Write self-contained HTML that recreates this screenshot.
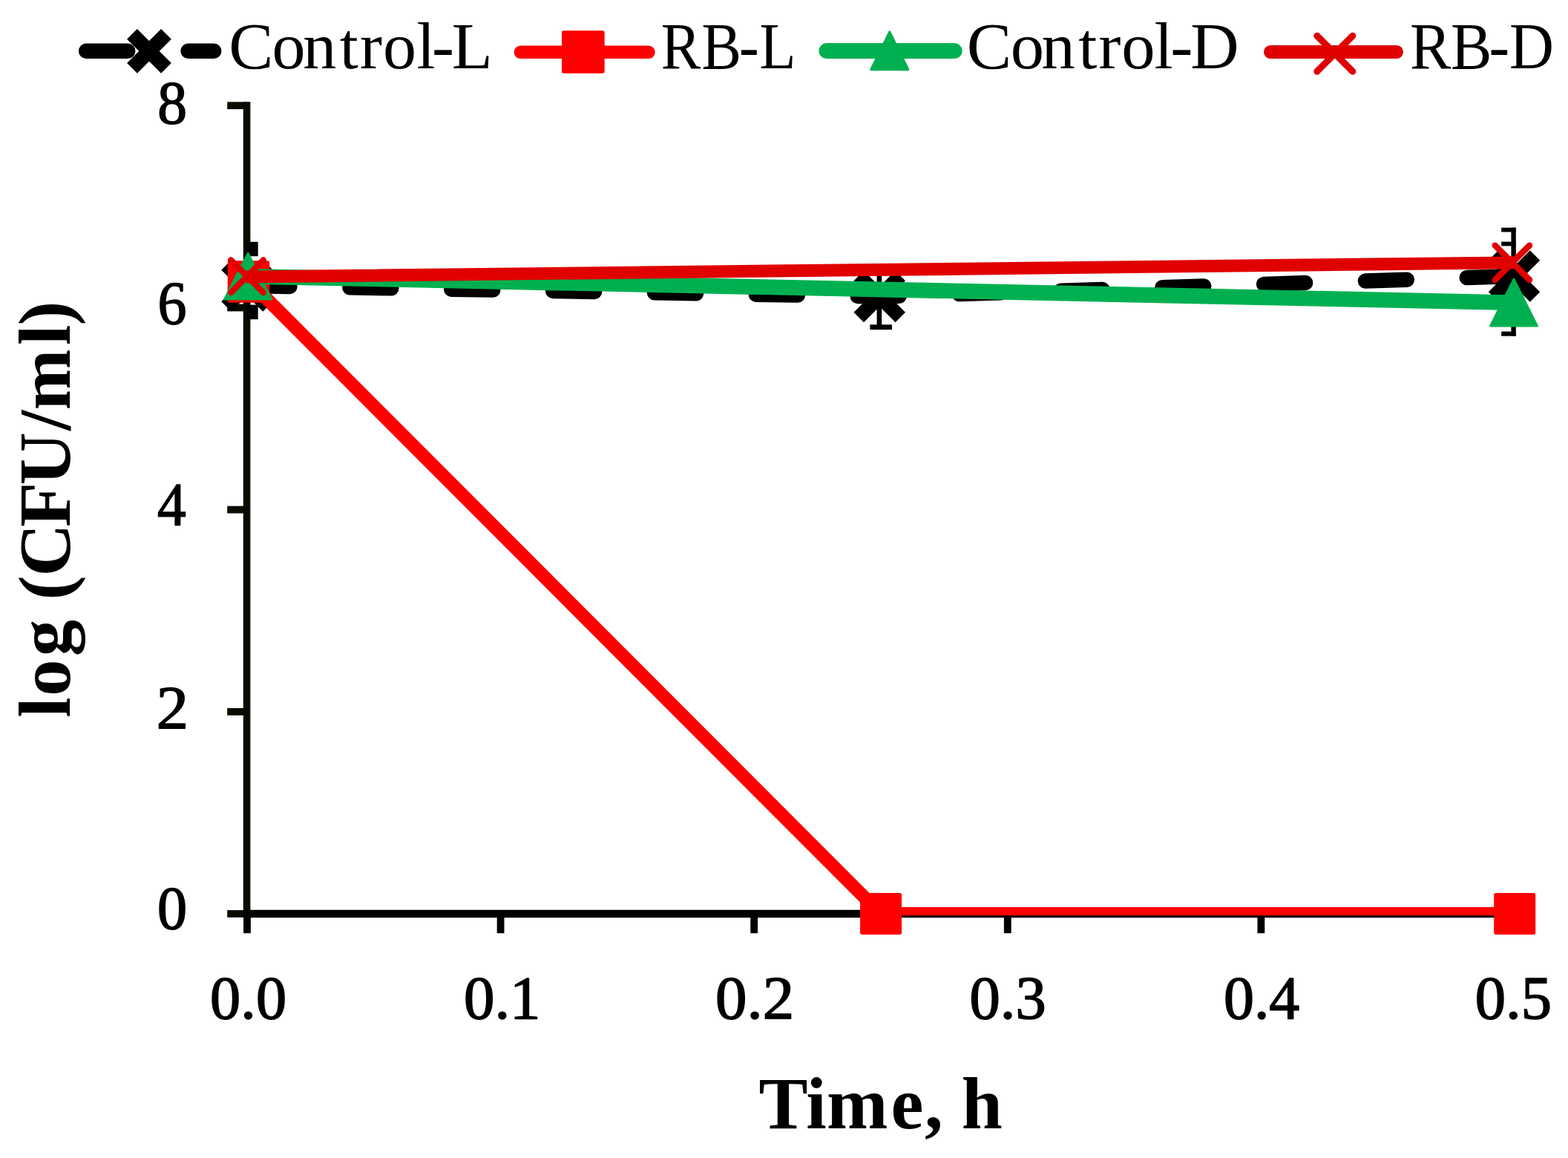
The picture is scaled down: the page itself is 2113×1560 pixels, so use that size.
<!DOCTYPE html>
<html lang="en">
<head>
<meta charset="utf-8">
<title>log (CFU/ml) vs Time, h</title>
<style>
html,body{margin:0;padding:0;background:#ffffff;}
body{width:2113px;height:1560px;overflow:hidden;}
svg{display:block;}
text{font-family:"Liberation Serif",serif;}
</style>
</head>
<body>
<svg width="2113" height="1560" viewBox="0 0 2113 1560" role="img" aria-label="Line chart of log (CFU/ml) versus Time, h">
<rect width="2113" height="1560" fill="#ffffff"/>
<!-- axes -->
<g fill="none" stroke-linecap="butt"><path stroke="#0c0a00" stroke-width="9.6" d="M332.6 137.2V1236.2"/><path stroke="#0c0a00" stroke-width="9.8" d="M306.2 142.20H332.6"/><path stroke="#0c0a00" stroke-width="9.8" d="M306.2 414.50H332.6"/><path stroke="#0c0a00" stroke-width="9.8" d="M306.2 686.60H332.6"/><path stroke="#0c0a00" stroke-width="9.8" d="M306.2 958.80H332.6"/><path stroke="#0c0a00" stroke-width="9.8" d="M306.2 1231.00H332.6"/><path stroke="#000" stroke-width="10.4" d="M327.80 1231.0H2046"/><path stroke="#000" stroke-width="9.8" d="M333.00 1231.0V1257.2"/><path stroke="#000" stroke-width="9.8" d="M674.60 1231.0V1257.2"/><path stroke="#000" stroke-width="9.8" d="M1016.20 1231.0V1257.2"/><path stroke="#000" stroke-width="9.8" d="M1357.80 1231.0V1257.2"/><path stroke="#000" stroke-width="9.8" d="M1699.40 1231.0V1257.2"/><path stroke="#000" stroke-width="9.8" d="M2041.00 1231.0V1257.2"/></g>
<defs><clipPath id="pa"><rect x="332.00" y="137" width="1710.80" height="1096.20"/></clipPath></defs>
<!-- Control-L --><g clip-path="url(#pa)"><polyline points="333.00,385.00 1187.00,399.50 2041.00,372.00" fill="none" stroke="#000000" stroke-width="20.5" stroke-linecap="round" stroke-linejoin="round" stroke-dasharray="56 80.9" stroke-dashoffset="-1.5"/></g><path d="M305.00 357.00L361.00 413.00M305.00 413.00L361.00 357.00" stroke="#000000" stroke-width="19" stroke-linecap="butt" fill="none"/><path d="M1157.30 371.50L1213.30 427.50M1157.30 427.50L1213.30 371.50" stroke="#000000" stroke-width="19" stroke-linecap="butt" fill="none"/><path d="M2012.50 344.00L2068.50 400.00M2012.50 400.00L2068.50 344.00" stroke="#000000" stroke-width="19" stroke-linecap="butt" fill="none"/>
<!-- error bars -->
<g fill="#000"><rect x="333.0" y="325.8" width="14.7" height="19.4"/><rect x="333.0" y="410.6" width="14.7" height="19.6"/><rect x="1181.6" y="358" width="6.6" height="83"/><rect x="1172.4" y="437.3" width="29.6" height="6.8"/><rect x="1172.4" y="355.6" width="29.6" height="6.4"/><rect x="2036.4" y="306.7" width="6.4" height="146"/><rect x="2023.2" y="306.7" width="19.6" height="5.8"/><rect x="2023.2" y="325.6" width="19.6" height="5.8"/><rect x="2023.2" y="446.6" width="19.6" height="6.1"/></g>
<!-- RB-L --><g clip-path="url(#pa)"><polyline points="333.00,376.10 1187.00,1231.00 2041.00,1231.00" fill="none" stroke="#ff0000" stroke-width="17.8" stroke-linecap="round" stroke-linejoin="round"/></g><rect x="306.75" y="351.15" width="56.5" height="56.5" rx="2.5" fill="#ff0000"/><rect x="1159.10" y="1202.90" width="56" height="56" rx="2.5" fill="#ff0000"/><rect x="2013.20" y="1202.90" width="56" height="56" rx="2.5" fill="#ff0000"/>
<!-- Control-D --><g clip-path="url(#pa)"><polyline points="333.00,372.30 2041.00,407.70" fill="none" stroke="#00b050" stroke-width="20.8" stroke-linecap="round" stroke-linejoin="round"/></g><path d="M334.20 341.40L365.70 402.90L302.70 402.90Z" fill="#00b050" stroke="#00b050" stroke-width="3" stroke-linejoin="round"/><path d="M2040.00 376.10L2071.40 439.10L2008.60 439.10Z" fill="#00b050" stroke="#00b050" stroke-width="3" stroke-linejoin="round"/>
<!-- RB-D --><g clip-path="url(#pa)"><polyline points="333.00,373.00 2041.00,353.80" fill="none" stroke="#e00000" stroke-width="16.9" stroke-linecap="round" stroke-linejoin="round"/></g><path d="M311.20 350.40L354.80 394.00M311.20 394.00L354.80 350.40" stroke="#e00000" stroke-width="8.2" stroke-linecap="round" fill="none"/><path d="M2014.70 330.60L2061.10 377.00M2014.70 377.00L2061.10 330.60" stroke="#e00000" stroke-width="8.4" stroke-linecap="round" fill="none"/>
<!-- legend keys -->
<path d="M116.2 68.85H172.2M253.6 68.85H288.2" stroke="#000000" stroke-width="20.5" stroke-linecap="round"/>
<path d="M178.00 45.80L224.00 91.80M178.00 91.80L224.00 45.80" stroke="#000000" stroke-width="19.5" stroke-linecap="butt" fill="none"/>
<path d="M701.5 70.3H873.9" stroke="#ff0000" stroke-width="17.6" stroke-linecap="round"/>
<rect x="757.10" y="41.20" width="57.6" height="57.6" rx="2.5" fill="#ff0000"/>
<path d="M1113.9 68.6H1286.2" stroke="#00b050" stroke-width="21" stroke-linecap="round"/>
<path d="M1198.85 42.80L1223.95 93.70L1173.75 93.70Z" fill="#00b050" stroke="#00b050" stroke-width="3" stroke-linejoin="round"/>
<path d="M1712.1 70H1881.9" stroke="#e00000" stroke-width="18.2" stroke-linecap="round"/>
<path d="M1774.80 48.20L1822.80 96.20M1774.80 96.20L1822.80 48.20" stroke="#e00000" stroke-width="9" stroke-linecap="round" fill="none"/>
<!-- text -->
<g font-family='"Liberation Serif", serif' fill="#000">
<text x="212.36" y="165.60" font-size="82" font-weight="normal" stroke="#000" stroke-width="1.6" stroke-linejoin="round" textLength="39.78" lengthAdjust="spacingAndGlyphs">8</text>
<text x="212.50" y="436.25" font-size="82" font-weight="normal" stroke="#000" stroke-width="1.6" stroke-linejoin="round" textLength="38.95" lengthAdjust="spacingAndGlyphs">6</text>
<text x="212.00" y="706.50" font-size="82" font-weight="normal" stroke="#000" stroke-width="1.6" stroke-linejoin="round" textLength="38.70" lengthAdjust="spacingAndGlyphs">4</text>
<text x="210.89" y="981.35" font-size="82" font-weight="normal" stroke="#000" stroke-width="1.6" stroke-linejoin="round" textLength="43.28" lengthAdjust="spacingAndGlyphs">2</text>
<text x="212.04" y="1251.00" font-size="82" font-weight="normal" stroke="#000" stroke-width="1.6" stroke-linejoin="round" textLength="40.11" lengthAdjust="spacingAndGlyphs">0</text>
<text x="283.09" y="1372.00" font-size="82" font-weight="normal" stroke="#000" stroke-width="1.6" stroke-linejoin="round" textLength="103.02" lengthAdjust="spacingAndGlyphs">0.0</text>
<text x="624.98" y="1371.50" font-size="82" font-weight="normal" stroke="#000" stroke-width="1.6" stroke-linejoin="round" textLength="103.56" lengthAdjust="spacingAndGlyphs">0.1</text>
<text x="963.93" y="1372.00" font-size="82" font-weight="normal" stroke="#000" stroke-width="1.6" stroke-linejoin="round" textLength="106.20" lengthAdjust="spacingAndGlyphs">0.2</text>
<text x="1306.59" y="1372.00" font-size="82" font-weight="normal" stroke="#000" stroke-width="1.6" stroke-linejoin="round" textLength="103.23" lengthAdjust="spacingAndGlyphs">0.3</text>
<text x="1649.00" y="1371.50" font-size="82" font-weight="normal" stroke="#000" stroke-width="1.6" stroke-linejoin="round" textLength="102.29" lengthAdjust="spacingAndGlyphs">0.4</text>
<text x="1987.79" y="1371.50" font-size="82" font-weight="normal" stroke="#000" stroke-width="1.6" stroke-linejoin="round" textLength="103.23" lengthAdjust="spacingAndGlyphs">0.5</text>
<text transform="scale(1.0245,1)" x="300.95 357.81 398.40 446.82 473.36 503.71 547.97 567.97 594.13" y="92.30" font-size="88" font-weight="normal">Control-L</text>
<text transform="scale(0.9122,1)" x="976.51 1036.40 1091.88 1121.89" y="92.30" font-size="88" font-weight="normal">RB-L</text>
<text transform="scale(1.0298,1)" x="1265.15 1322.36 1362.95 1411.09 1437.50 1467.62 1510.53 1531.69 1557.85" y="92.30" font-size="88" font-weight="normal">Control-D</text>
<text transform="scale(0.9443,1)" x="2011.96 2070.23 2124.75 2154.02" y="92.30" font-size="88" font-weight="normal">RB-D</text>
<text transform="scale(1.0005,1)" x="1021.88 1085.78 1113.58 1199.88 1245.27 1270.02 1295.12" y="1519.90" font-size="99" font-weight="bold">Time, h</text>
<text transform="translate(94.2,0) rotate(-90) scale(0.9852,1)" x="-981.38 -951.88 -897.21 -847.21 -820.39 -788.16 -720.65 -663.24 -588.76 -560.74 -471.93 -445.16" y="0.00" font-size="100" font-weight="bold">log (CFU/ml)</text>
</g>
</svg>
</body>
</html>
